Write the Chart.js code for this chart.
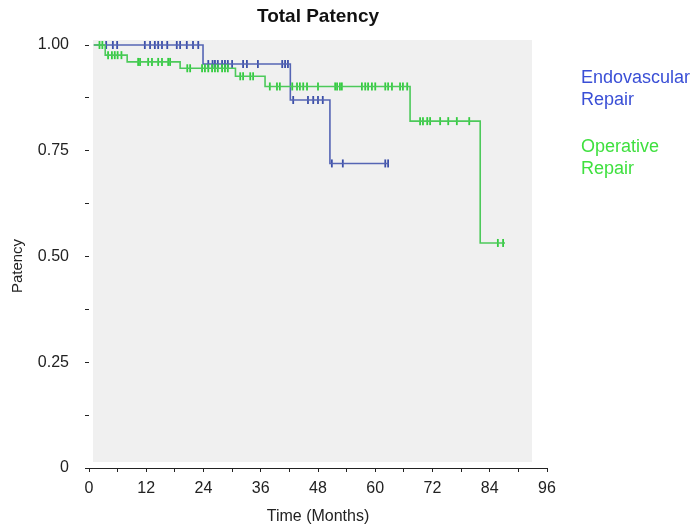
<!DOCTYPE html>
<html>
<head>
<meta charset="utf-8">
<script src="https://cdn.jsdelivr.net/npm/chart.js@4/dist/chart.umd.min.js"></script>
<style>
  html, body { margin: 0; padding: 0; background: #ffffff; }
  #wrap { width: 696px; height: 529px; }
</style>
</head>
<body>
<div id="wrap"><canvas id="km" width="696" height="529"></canvas></div>
<script>
// Kaplan-Meier step curves: time (months) of each step and patency after it
const endoTimes = [1, 23.9, 42.2, 50.5, 62.8];
const endoSurv  = [1.000, 0.955, 0.870, 0.720, 0.720];

const opTimes = [1, 3.4, 8.0, 19.1, 30.7, 36.9, 67.3, 82.0, 87.2];
const opSurv  = [1.000, 0.976, 0.960, 0.945, 0.926, 0.902, 0.820, 0.532, 0.532];

// Censored observations (months)
const endoCensor = [3.6, 5.0, 5.9, 11.7, 12.8, 13.8, 14.5, 15.3, 16.4, 18.4, 19.1, 20.5, 21.8, 22.9,
                    25.0, 25.9, 26.4, 27.0, 27.9, 28.5, 29.1, 30.0, 32.3, 33.1, 35.4, 40.5, 41.1, 41.7,
                    42.8, 45.9, 47.0, 48.0, 49.0,
                    50.9, 53.2, 62.1, 62.7];
const opCensor = [2.2, 2.8,
                  4.0, 4.8, 5.4, 6.0, 6.8,
                  10.3, 10.7, 12.4, 13.2, 14.5, 15.3, 16.6, 17.0,
                  20.6, 21.2, 23.7, 24.3, 25.0, 25.8, 26.4, 27.0, 27.9, 28.5, 29.1,
                  31.7, 32.3, 33.8, 34.4,
                  37.9, 39.4, 40.0, 42.6, 43.6, 44.2, 44.9, 45.7, 48.0, 51.6, 52.0, 52.6, 53.0,
                  57.2, 57.9, 58.5, 59.3, 60.0, 62.1, 62.7, 63.5, 65.2, 65.8, 66.7,
                  69.4, 70.0, 70.9, 71.5, 73.6, 75.3, 77.1, 79.7,
                  85.7, 86.8];

// Axis ticks
const xTickStep = 6;
const xLabelEvery = 12;
const yTickStep = 0.125;
const yLabels = { '0': '0', '0.25': '0.25', '0.5': '0.50', '0.75': '0.75', '1': '1.00' };

const legendItems = [
  { lines: ['Endovascular', 'Repair'], color: '#3a4fd6' },
  { lines: ['Operative', 'Repair'], color: '#3fe03f' }
];

const BLUE_LINE = '#5565b4';
const BLUE_MARK = '#3b4ea8';
const GREEN_LINE = '#4cc95a';
const GREEN_MARK = '#33cc3f';

function toSteps(times, surv) {
  return times.map((t, i) => ({ x: t, y: surv[i] }));
}
// patency level of a step curve at time t
function levelAt(times, surv, t) {
  let v = surv[0];
  for (let i = 0; i < times.length; i++) {
    if (times[i] <= t) v = surv[i];
  }
  return v;
}
function censorPoints(cens, times, surv) {
  return cens.map(t => ({ x: t, y: levelAt(times, surv, t) }));
}

const FONT = "'Liberation Sans', Arial, Helvetica, sans-serif";

const backdrop = {
  id: 'backdrop',
  beforeDraw(chart) {
    const { ctx, chartArea: a } = chart;
    ctx.save();
    ctx.fillStyle = '#f0f0f0';
    ctx.fillRect(a.left + 4, a.top - 5, (a.right - 15) - (a.left + 4), (a.bottom - 6) - (a.top - 5));
    ctx.restore();
  },
  afterDraw(chart) {
    const { ctx, chartArea: a } = chart;
    ctx.save();
    // title
    ctx.fillStyle = '#111';
    ctx.font = 'bold 19px ' + FONT;
    ctx.textAlign = 'center';
    ctx.textBaseline = 'middle';
    ctx.fillText('Total Patency', (a.left + a.right) / 2, 17);
    // y-axis title
    ctx.save();
    ctx.translate(18, 266);
    ctx.rotate(-Math.PI / 2);
    ctx.fillStyle = '#222';
    ctx.font = '15px ' + FONT;
    ctx.fillText('Patency', 0, 0);
    ctx.restore();
    // side legend
    ctx.font = '18px ' + FONT;
    ctx.textAlign = 'left';
    let y = a.top + 33;
    legendItems.forEach(item => {
      ctx.fillStyle = item.color;
      item.lines.forEach(line => {
        ctx.fillText(line, a.right + 34, y);
        y += 22;
      });
      y += 25;
    });
    ctx.restore();
  }
};

new Chart(document.getElementById('km'), {
  type: 'line',
  data: {
    datasets: [
      { label: 'Endovascular Repair', data: toSteps(endoTimes, endoSurv), stepped: 'before',
        borderColor: BLUE_LINE, borderWidth: 1.6, pointRadius: 0, clip: false, order: 2 },
      { label: 'Operative Repair', data: toSteps(opTimes, opSurv), stepped: 'before',
        borderColor: GREEN_LINE, borderWidth: 1.6, pointRadius: 0, clip: false, order: 1 },
      { label: 'Endovascular censored', data: censorPoints(endoCensor, endoTimes, endoSurv), showLine: false,
        pointStyle: 'line', rotation: 90, pointRadius: 4, pointBorderWidth: 1.8,
        borderColor: BLUE_MARK, backgroundColor: BLUE_MARK, clip: false, order: 2 },
      { label: 'Operative censored', data: censorPoints(opCensor, opTimes, opSurv), showLine: false,
        pointStyle: 'line', rotation: 90, pointRadius: 4, pointBorderWidth: 1.8,
        borderColor: GREEN_MARK, backgroundColor: GREEN_MARK, clip: false, order: 1 }
    ]
  },
  options: {
    responsive: false,
    animation: false,
    layout: { padding: { top: 45, right: 149, bottom: 0, left: 0 } },
    plugins: { legend: { display: false }, tooltip: { enabled: false }, title: { display: false } },
    scales: {
      x: {
        type: 'linear', min: 0, max: 96,
        afterFit(s) { s.height = 61; },
        border: { display: true, color: '#222', width: 1 },
        grid: { drawOnChartArea: false, drawTicks: true, tickLength: 4, color: '#222' },
        ticks: {
          stepSize: xTickStep, autoSkip: false, maxRotation: 0, padding: 7,
          color: '#222', font: { family: FONT, size: 16 },
          callback: v => (v % xLabelEvery === 0 ? String(v) : '')
        },
        title: { display: true, text: 'Time (Months)', color: '#222',
                 font: { family: FONT, size: 16 }, padding: { top: 0, bottom: 3 } }
      },
      y: {
        type: 'linear', min: 0, max: 1,
        afterFit(s) { s.width = 89; },
        border: { display: false },
        grid: { drawOnChartArea: false, drawTicks: true, tickLength: 4, color: '#222' },
        ticks: {
          stepSize: yTickStep, autoSkip: false, padding: 16,
          color: '#222', font: { family: FONT, size: 16 },
          callback: v => (yLabels[String(+v.toFixed(3))] || '')
        },
        title: { display: false }
      }
    }
  },
  plugins: [backdrop]
});
</script>
</body>
</html>
